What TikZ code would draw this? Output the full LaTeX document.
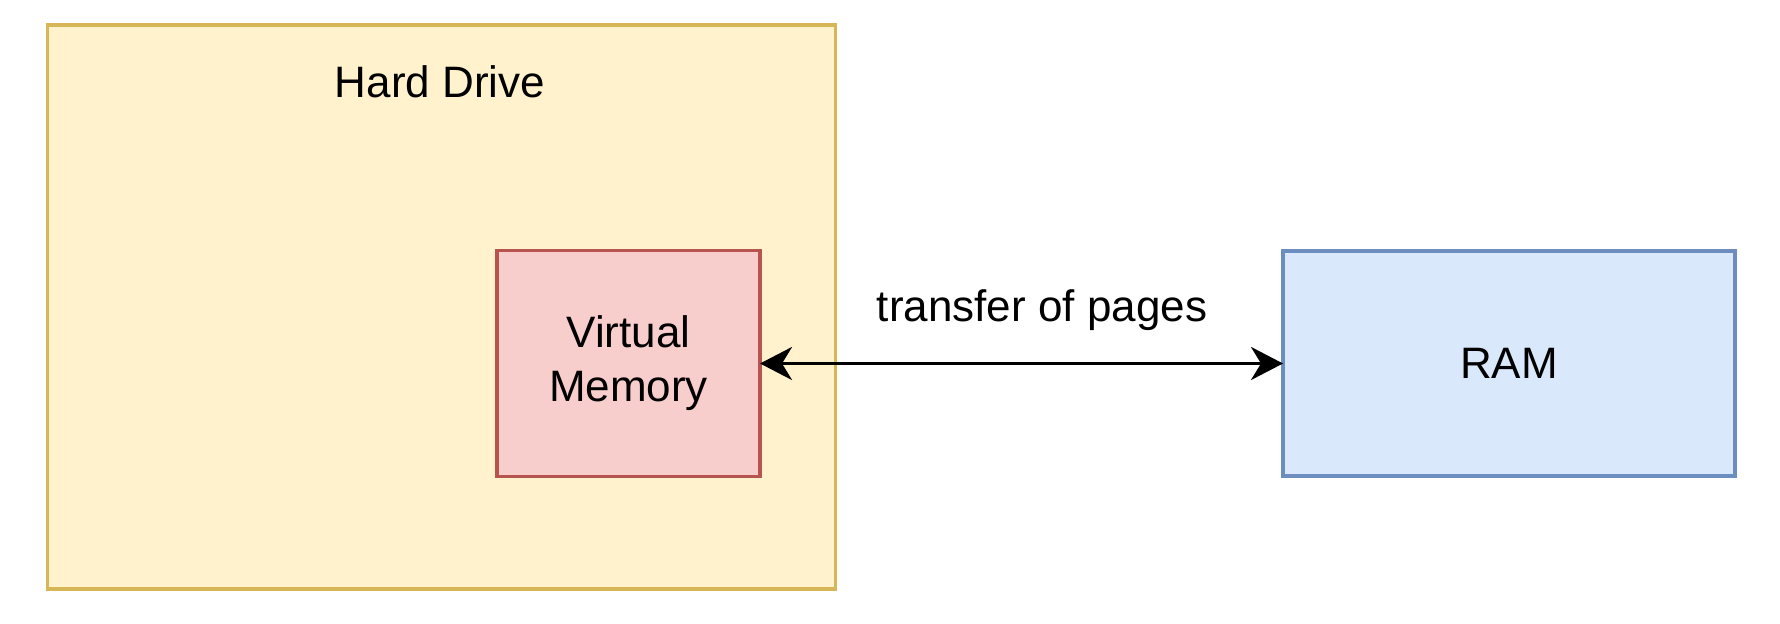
\documentclass[tikz,border=0pt]{standalone}
\usepackage{fontspec}
\setmainfont{Liberation Sans}
\usetikzlibrary{arrows.meta}
\definecolor{hdfill}{HTML}{FFF2CC}
\definecolor{hddraw}{HTML}{D6B656}
\definecolor{vmfill}{HTML}{F8CECC}
\definecolor{vmdraw}{HTML}{B85450}
\definecolor{ramfill}{HTML}{DAE8FC}
\definecolor{ramdraw}{HTML}{6C8EBF}
\tikzset{
  box/.style={rectangle, line width=1.75pt, inner sep=0pt, outer sep=0pt, align=center,
    font=\fontsize{22}{27}\selectfont},
  lbl/.style={inner sep=0pt, font=\fontsize{22}{27}\selectfont},
  link/.style={line width=1.75pt, {Stealth[length=16pt,width=16.5pt,inset=5pt]}-{Stealth[length=16pt,width=16.5pt,inset=5pt]}}
}
\begin{document}
\begin{tikzpicture}[x=0.5pt,y=-0.5pt]
\useasboundingbox (0,0) rectangle (1780,624);
\node[box, fill=hdfill, draw=hddraw, minimum width=394pt, minimum height=282pt] (hd) at (441.6,307) {};
\node[lbl] (hdlabel) at (440,82) {Hard Drive};
\node[box, fill=vmfill, draw=vmdraw, minimum width=131.5pt, minimum height=113pt] (vm) at (628.5,363.5) {Virtual\\Memory};
\node[box, fill=ramfill, draw=ramdraw, minimum width=226pt, minimum height=112.5pt] (ram) at (1509,363.5) {RAM};
\draw[link] (vm.east) -- (ram.west);
\node[lbl, anchor=base] (tlabel) at (1042,322) {transfer of pages};
\end{tikzpicture}
\end{document}
